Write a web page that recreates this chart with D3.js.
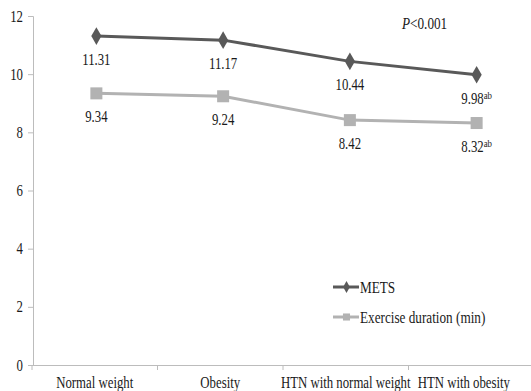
<!DOCTYPE html>
<html>
<head>
<meta charset="utf-8">
<script src="https://cdn.jsdelivr.net/npm/d3@7"></script>
<style>
  body { margin: 0; background: #fff; }
</style>
</head>
<body>
<svg id="chart" width="531" height="391" font-family="'Liberation Serif', 'Times New Roman', serif"></svg>
<script>
// categories and values
var groups = ["Normal weight", "Obesity", "HTN with normal weight", "HTN with obesity"];
var mets = [11.31, 11.17, 10.44, 9.98];
var duration = [9.34, 9.24, 8.42, 8.32];
var metsSup = ["", "", "", "ab"];
var durSup = ["", "", "", "ab"];
var yTicks = [0, 2, 4, 6, 8, 10, 12];

var serif = "'Liberation Serif', 'Times New Roman', serif";
var squeeze = 0.8; // the original lettering is narrow
var svg = d3.select("#chart");

// points sit on a slightly wider grid than the axis tick marks in the original
var x = d3.scaleBand().domain(groups).range([33, 540]);
var xAxisScale = d3.scaleBand().domain(groups).range([32, 534]);
var y = d3.scaleLinear().domain([0, 12]).range([365, 16]);

function narrow(sel) {
  sel.each(function() {
    var t = d3.select(this);
    var x0 = +t.attr("x") || 0;
    t.attr("x", x0 / squeeze).attr("transform", "scale(" + squeeze + ",1)");
  });
}

// y axis
var yAxis = svg.append("g").attr("transform", "translate(33,0)")
  .call(d3.axisLeft(y).tickValues(yTicks).tickSize(5).tickPadding(5));
yAxis.attr("font-family", serif).attr("font-size", 16);
yAxis.selectAll("line,path").attr("stroke", "#bcbcbc");
yAxis.selectAll("text").attr("fill", "#1a1a1a").call(narrow);

// x axis
var xAxis = svg.append("g").attr("transform", "translate(0,365)")
  .call(d3.axisBottom(xAxisScale).tickSize(0).tickPadding(12));
xAxis.attr("font-family", serif).attr("font-size", 16);
xAxis.select("path").attr("stroke", "#bcbcbc");
xAxis.selectAll("text").attr("fill", "#1a1a1a").call(narrow);
// keep the last label inside the frame, as the original does
xAxis.selectAll(".tick").each(function(d) {
  var t = d3.select(this).select("text");
  var w = this.querySelector("text").getComputedTextLength() * squeeze;
  var c = xAxisScale(d) + xAxisScale.bandwidth() / 2;
  var maxRight = 510;
  if (c + w / 2 > maxRight) t.attr("x", (maxRight - w / 2 - c) / squeeze);
});
// category dividers
svg.selectAll(".divider").data(groups).enter().append("line")
  .attr("x1", d => xAxisScale(d)).attr("x2", d => xAxisScale(d))
  .attr("y1", 365).attr("y2", 370)
  .attr("stroke", "#bcbcbc");

var cx = d => x(d) + x.bandwidth() / 2;

var line = d3.line().x((d, i) => cx(groups[i])).y(d => y(d));

// exercise duration
svg.append("path").datum(duration).attr("d", line)
  .attr("fill", "none").attr("stroke", "#b2b2b2").attr("stroke-width", 3);
svg.selectAll(".sq").data(duration).enter().append("rect")
  .attr("x", (d, i) => cx(groups[i]) - 6).attr("y", d => y(d) - 6)
  .attr("width", 12).attr("height", 12).attr("fill", "#b2b2b2");

// METS
svg.append("path").datum(mets).attr("d", line)
  .attr("fill", "none").attr("stroke", "#595959").attr("stroke-width", 3);
svg.selectAll(".dia").data(mets).enter().append("path")
  .attr("d", d3.symbol().type(d3.symbolDiamond).size(90))
  .attr("transform", (d, i) => "translate(" + cx(groups[i]) + "," + y(d) + ")")
  .attr("fill", "#595959");

function labels(vals, sups, dy) {
  var t = svg.selectAll(null).data(vals).enter().append("text")
    .attr("transform", (d, i) => "translate(" + cx(groups[i]) + "," + (y(d) + dy) + ") scale(" + squeeze + ",1)")
    .attr("text-anchor", "middle")
    .attr("fill", "#1a1a1a")
    .style("font-size", "16px");
  t.append("tspan").text(d => d.toFixed(2));
  t.append("tspan").text((d, i) => sups[i]).attr("dy", -5).style("font-size", "11px");
}
labels(mets, metsSup, 29);
labels(duration, durSup, 29);

// p value
var p = svg.append("text").attr("transform", "translate(402,29) scale(" + squeeze + ",1)")
  .attr("fill", "#1a1a1a").style("font-size", "16.5px");
p.append("tspan").text("P").style("font-style", "italic");
p.append("tspan").text("<0.001");

// legend
var legend = [
  { name: "METS", color: "#595959", shape: "diamond" },
  { name: "Exercise duration (min)", color: "#b2b2b2", shape: "square" }
];
var lg = svg.selectAll(".lg").data(legend).enter().append("g")
  .attr("transform", (d, i) => "translate(333," + (287 + i * 30) + ")");
lg.append("line").attr("x1", 0).attr("x2", 26).attr("stroke", d => d.color).attr("stroke-width", 3);
lg.append("path")
  .attr("d", d => d3.symbol().type(d.shape == "diamond" ? d3.symbolDiamond : d3.symbolSquare).size(d.shape == "diamond" ? 40 : 50)())
  .attr("transform", "translate(13.5,0)")
  .attr("fill", d => d.color);
lg.append("text").attr("transform", "translate(27,5.5) scale(" + squeeze + ",1)")
  .attr("fill", "#1a1a1a").style("font-size", "16.5px").text(d => d.name);
</script>
</body>
</html>
